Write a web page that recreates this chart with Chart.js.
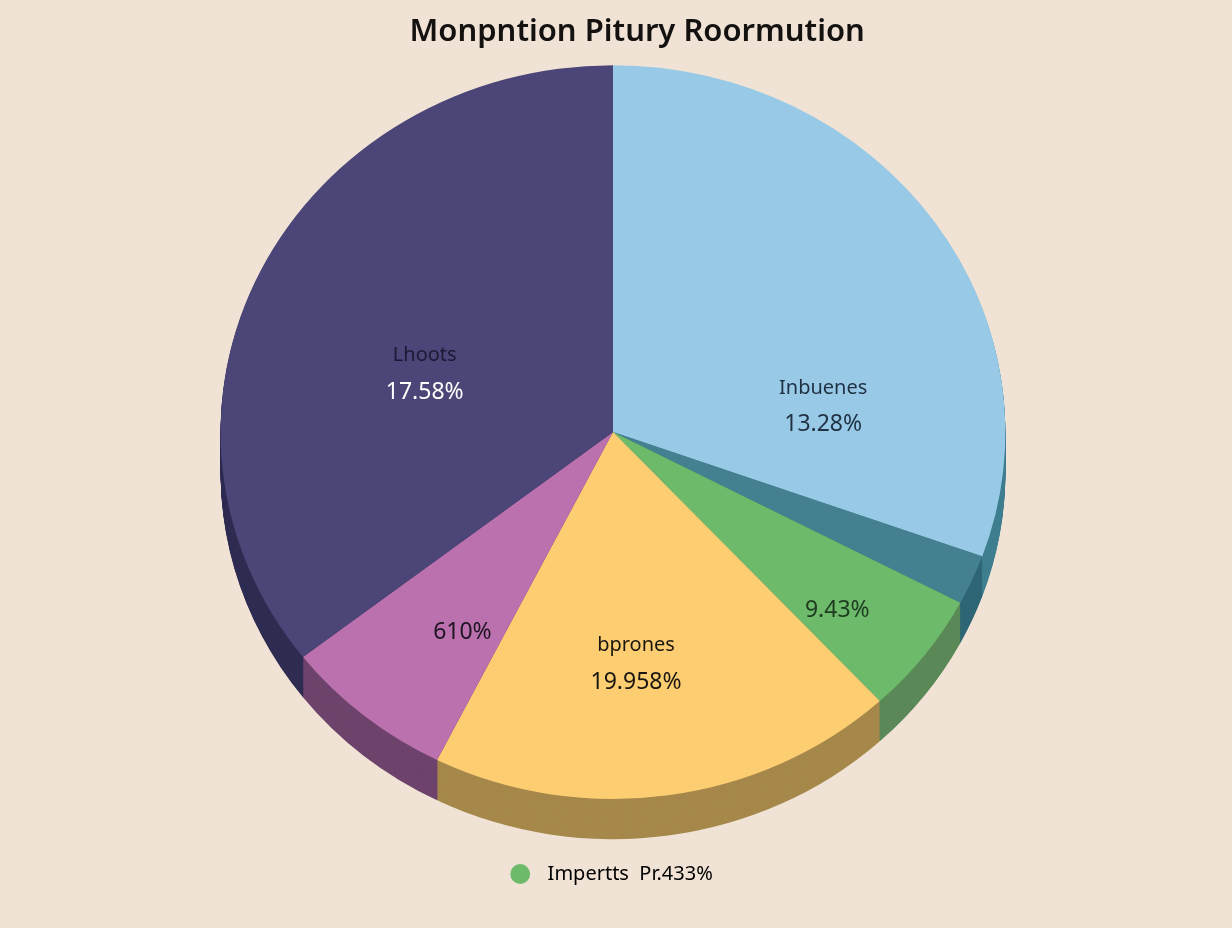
<!DOCTYPE html>
<html>
<head>
<meta charset="utf-8">
<title>Monpntion Pitury Roormution</title>
<script src="https://cdn.jsdelivr.net/npm/chart.js@4.4.1/dist/chart.umd.min.js"></script>
<style>
    html, body { margin: 0; padding: 0; background: #f0e3d5; }
    #wrap { width: 1232px; height: 928px; position: relative; }
</style>
</head>
<body>
<div id="wrap"><canvas id="pie-chart"></canvas></div>
<script>
// slices, clockwise from 12 o'clock
const categories = ["Inbuenes", "Teal", "Green", "bprones", "Pink", "Lhoots"];
const sliceValues = [30.5, 2.2, 5.4, 19.3, 7.1, 35.5];
const sliceNames = ["Inbuenes", "", "", "bprones", "", "Lhoots"];
const percentLabels = ["13.28%", "", "9.43%", "19.958%", "610%", "17.58%"];
const legendText = "  Impertts  Pr.433%";
const titleText = "      Monpntion Pitury Roormution";

const topColors = ["#98cae7", "#44808f", "#6dba6a", "#fdcd72", "#bb71ae", "#4b4677"];
const sideColors = ["#3f7f90", "#2f6676", "#5a8957", "#a6884b", "#6d436c", "#2f2c52"];
const nameColors = ["#1f3142", "", "", "#1b1710", "", "#1b1936"];
const percentColors = ["#1f3142", "", "#1e3a21", "#1b1710", "#1e1422", "#ffffff"];

// label placement (angle shift in degrees, radius as fraction)
const labelShift = [27.8, 0, 2.9, 2.8, -4.3, -7.9];
const labelRadius = [0.54, 0, 0.75, 0.636, 0.667, 0.505];

const squash = 0.935;
const depth = 43;

const pseudo3d = {
    id: "pseudo3d",
    beforeDraw(chart) {
        const ctx = chart.ctx;
        ctx.save();
        ctx.fillStyle = "#f0e3d5";
        ctx.fillRect(0, 0, chart.width, chart.height);
        ctx.restore();
    },
    beforeDatasetsDraw(chart) {
        const ctx = chart.ctx;
        const top = chart.chartArea.top;
        const arcs = chart.getDatasetMeta(0).data;
        ctx.save();
        ctx.translate(0, top);
        ctx.scale(1, squash);
        ctx.translate(0, -top);
        for (let d = depth; d >= 1; d--) {
            arcs.forEach((arc, i) => {
                const p = arc.getProps(["x", "y", "startAngle", "endAngle", "outerRadius"], true);
                ctx.fillStyle = sideColors[i];
                ctx.beginPath();
                ctx.moveTo(p.x, p.y + d);
                ctx.arc(p.x, p.y + d, p.outerRadius, p.startAngle, p.endAngle);
                ctx.closePath();
                ctx.fill();
            });
        }
    },
    afterDatasetsDraw(chart) {
        chart.ctx.restore();
    },
    afterDraw(chart) {
        const ctx = chart.ctx;
        const top = chart.chartArea.top;
        const arcs = chart.getDatasetMeta(0).data;
        ctx.save();
        ctx.textAlign = "center";
        ctx.textBaseline = "middle";
        arcs.forEach((arc, i) => {
            if (!percentLabels[i]) return;
            const p = arc.getProps(["x", "y", "startAngle", "endAngle", "outerRadius"], true);
            const mid = (p.startAngle + p.endAngle) / 2 + labelShift[i] * Math.PI / 180;
            const rr = p.outerRadius * labelRadius[i];
            const x = p.x + Math.cos(mid) * rr;
            const y = top + (p.y + Math.sin(mid) * rr - top) * squash;
            if (sliceNames[i]) {
                ctx.font = "20px 'Noto Sans'";
                ctx.fillStyle = nameColors[i];
                ctx.fillText(sliceNames[i], x, y - 19);
                ctx.font = "23px 'Noto Sans'";
                ctx.fillStyle = percentColors[i];
                ctx.fillText(percentLabels[i], x, y + 18);
            } else {
                ctx.font = "23px 'Noto Sans'";
                ctx.fillStyle = percentColors[i];
                ctx.fillText(percentLabels[i], x, y);
            }
        });
        ctx.restore();
    }
};

const pieChart = document.getElementById("pie-chart").getContext("2d");

new Chart(pieChart, {
    type: "pie",
    data: {
        labels: categories,
        datasets: [{
            data: sliceValues,
            backgroundColor: topColors,
            borderWidth: 0,
            hoverOffset: 0,
            clip: false
        }]
    },
    options: {
        responsive: true,
        maintainAspectRatio: false,
        animation: false,
        events: [],
        layout: {
            padding: { left: 0, right: 6, top: 0, bottom: 34 }
        },
        plugins: {
            title: {
                display: true,
                text: titleText,
                color: "#141210",
                font: { family: "'Noto Sans'", size: 31, weight: "600" },
                padding: { top: 14, bottom: 14 }
            },
            legend: {
                display: true,
                position: "bottom",
                labels: {
                    usePointStyle: true,
                    pointStyle: "circle",
                    boxWidth: 14,
                    boxHeight: 14,
                    padding: 14,
                    color: "#2f2b27",
                    font: { family: "'Noto Sans'", size: 20 },
                    generateLabels: () => [{
                        text: legendText,
                        fillStyle: topColors[2],
                        strokeStyle: topColors[2],
                        lineWidth: 0,
                        pointStyle: "circle",
                        hidden: false,
                        index: 2
                    }]
                }
            },
            tooltip: { enabled: false }
        }
    },
    plugins: [pseudo3d]
});
</script>
</body>
</html>
